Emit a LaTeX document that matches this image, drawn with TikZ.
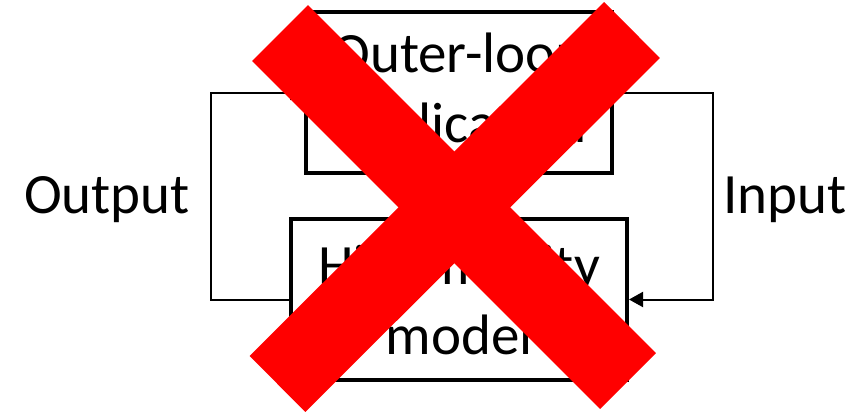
\documentclass[tikz,border=0pt]{standalone}
\usepackage{fontspec}
\setmainfont{Carlito}
\usetikzlibrary{arrows.meta}
\begin{document}
\begin{tikzpicture}[x=1pt,y=-1pt,
  blockbox/.style={draw=black,line width=4pt,inner sep=0pt,align=center,
    font=\fontsize{57}{70}\selectfont},
  label/.style={inner sep=0pt,font=\fontsize{57}{70}\selectfont},
  wire/.style={draw=black,line width=2pt},
  tip/.style={-{Triangle[length=14pt,width=15pt]}},
  cross/.style={draw={rgb,255:red,255;green,0;blue,0},line width=79pt,line cap=butt}]
  \useasboundingbox (0,0) rectangle (856,412);
  % the two blocks
  \node[blockbox,minimum width=306pt,minimum height=161pt] (app) at (459,92.5)
    {Outer-loop\\application};
  \node[blockbox,minimum width=336pt,minimum height=161pt] (model) at (459,299.5)
    {High-fidelity\\model};
  % feedback loop
  \coordinate (lx) at (211,0);
  \coordinate (rx) at (713,0);
  \draw[wire,tip] (model.west) -- (lx |- model.west) -- (lx |- app.west) -- (app.west);
  \draw[wire,tip] (app.east) -- (rx |- app.east) -- (rx |- model.east) -- (model.east);
  % side labels
  \node[label,anchor=base] (out) at (107,213) {Output};
  \node[label,anchor=base] (in) at (785,213) {Input};
  % crossing-out mark
  \draw[cross] (280,33) -- (628,381);
  \draw[cross] (632,30) -- (277.5,384);
\end{tikzpicture}
\end{document}
